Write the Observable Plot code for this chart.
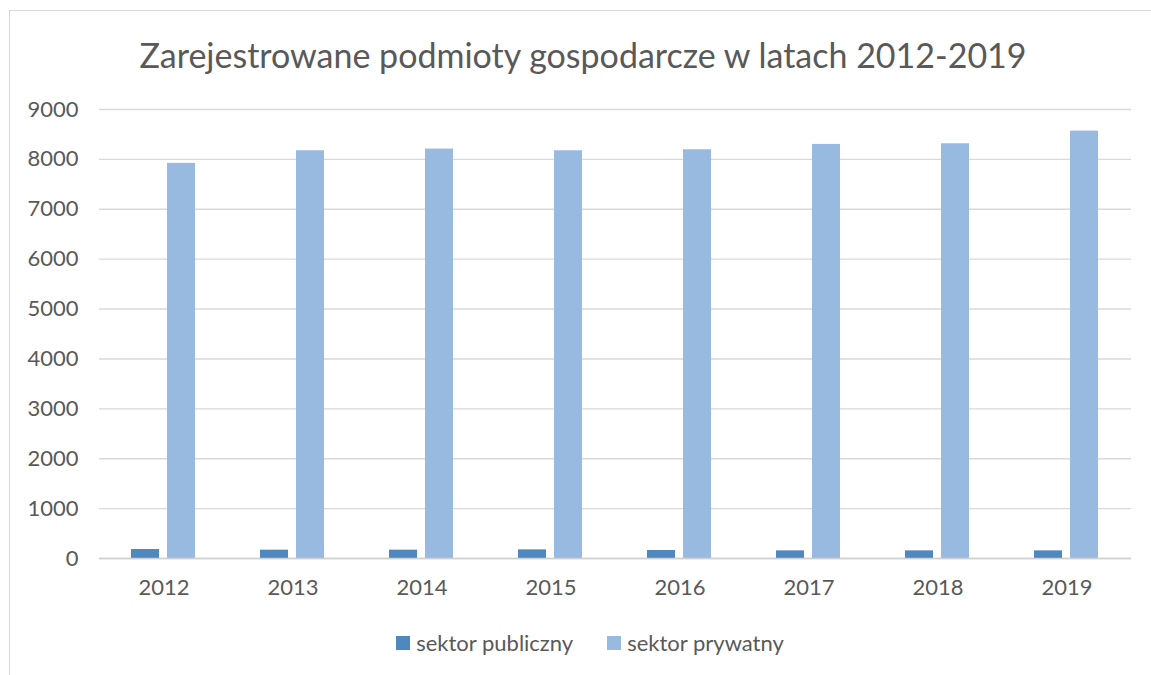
<!DOCTYPE html>
<html>
<head>
<meta charset="utf-8">
<script src="https://cdn.jsdelivr.net/npm/d3@7"></script>
<script src="https://cdn.jsdelivr.net/npm/@observablehq/plot@0.6"></script>
<style>
  body { margin: 0; background: #fff; font-family: Lato, "Open Sans", sans-serif; color: #595959; }
  #page { position: relative; width: 1151px; height: 675px; overflow: hidden; }
  #frame { position: absolute; left: 9px; top: 10px; width: 1160px; height: 700px; border: 1px solid #d9d9d9; box-sizing: border-box; }
  #title { position: absolute; left: 0; top: 32px; width: 1166px; text-align: center; font-size: 34px; line-height: 46px; color: #595959; }
  #chart { position: absolute; left: 0; top: 95px; }
  #legend { position: absolute; left: 0; top: 629px; width: 1180px; display: flex; justify-content: center; gap: 34px; font-size: 22px; line-height: 28px; }
  .item { display: flex; align-items: center; gap: 6px; }
  .sw { width: 14px; height: 14px; display: inline-block; }
</style>
</head>
<body>
<div id="page">
  <div id="frame"></div>
  <div id="title">Zarejestrowane podmioty gospodarcze w latach 2012-2019</div>
  <div id="chart"></div>
  <div id="legend"></div>
</div>
<script>
const years = ["2012", "2013", "2014", "2015", "2016", "2017", "2018", "2019"];
const seriesNames = ["sektor publiczny", "sektor prywatny"];
const publiczny = [180, 167, 167, 173, 160, 153, 153, 153];
const prywatny = [7920, 8173, 8207, 8173, 8193, 8300, 8313, 8567];
const yTicks = [0, 1000, 2000, 3000, 4000, 5000, 6000, 7000, 8000, 9000];
const colors = ["#4f87bf", "#98b9e0"];

const data = years.flatMap((y, i) => [
  {year: y, series: seriesNames[0], value: publiczny[i]},
  {year: y, series: seriesNames[1], value: prywatny[i]}
]);

const chart = Plot.plot({
  width: 1151,
  height: 510,
  marginLeft: 97,
  marginRight: 18,
  marginTop: 14,
  marginBottom: 47,
  style: {fontFamily: "Lato, 'Open Sans', sans-serif", fontSize: "22px", color: "#595959", background: "transparent", overflow: "visible"},
  fx: {domain: years, padding: 0, label: null, tickSize: 0, tickPadding: 21, axis: "bottom"},
  x: {domain: seriesNames, paddingInner: 0.216, paddingOuter: 0.86, axis: null},
  y: {domain: [0, 9000], ticks: yTicks, tickFormat: d => String(d), label: null, tickSize: 0, tickPadding: 21},
  color: {domain: seriesNames, range: colors},
  marks: [
    Plot.ruleY(yTicks, {stroke: "#d9d9d9", strokeWidth: 1.4}),
    Plot.barY(data, {fx: "year", x: "series", y: "value", fill: "series", insetLeft: 0, insetRight: 0}),
    Plot.ruleY([0], {stroke: "#d0d0d0", strokeWidth: 1.6})
  ]
});
document.getElementById("chart").appendChild(chart);

const legend = document.getElementById("legend");
seriesNames.forEach((s, i) => {
  const item = document.createElement("div");
  item.className = "item";
  const sw = document.createElement("span");
  sw.className = "sw";
  sw.style.background = colors[i];
  const t = document.createElement("span");
  t.textContent = s;
  item.appendChild(sw);
  item.appendChild(t);
  legend.appendChild(item);
});
</script>
</body>
</html>
